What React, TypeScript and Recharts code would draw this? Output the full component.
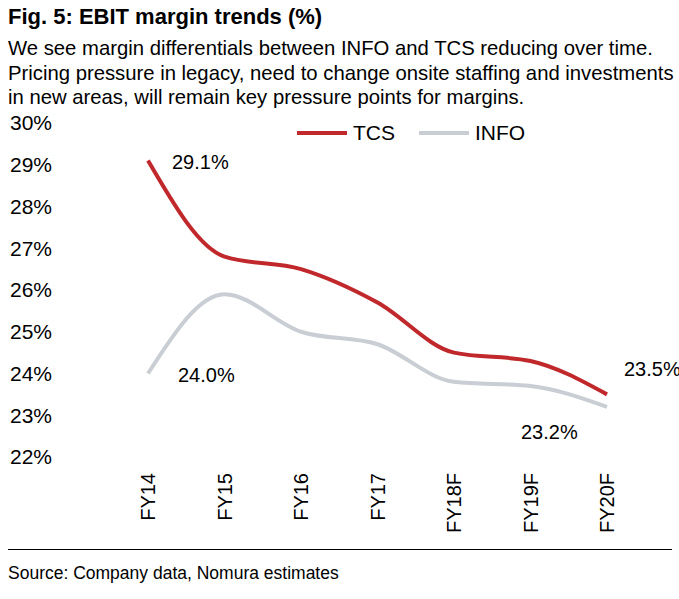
import {LineChart, Line, XAxis, YAxis, LabelList} from "recharts";

document.body.style.margin = "0";

const years = ["FY14", "FY15", "FY16", "FY17", "FY18F", "FY19F", "FY20F"];
const tcs = [29.1, 26.8, 26.5, 25.7, 24.5, 24.3, 23.5];
const info = [24.0, 25.9, 25.0, 24.7, 23.8, 23.7, 23.2];
const yTicks = [22, 23, 24, 25, 26, 27, 28, 29, 30];

const data = years.map((y, i) => ({year: y, tcs: tcs[i], info: info[i]}));

const RED = "#c0282b";
const GREY = "#c9ced4";
const font = "Liberation Sans, Arial, sans-serif";

const XTick = (props: any) => {
    const {x, y, payload} = props;
    return <text x={x + 7} y={y + 8} transform={`rotate(-90 ${x + 7} ${y + 8})`}
                 textAnchor="end" fontSize={20} fill="#000" fontFamily={font}>{payload.value}</text>;
};

const makeLabel = (show: Record<number, [number, number]>) => (props: any) => {
    const {x, y, index, value} = props;
    const off = show[index];
    if (!off) return null;
    return <text x={x + off[0]} y={y + off[1]} fontSize={20} fill="#000" fontFamily={font}>
        {value.toFixed(1)}%</text>;
};

export default function App() {
    return <div style={{position: "relative", width: 679, height: 599, fontFamily: font, background: "#fff"}}>
        <div style={{position: "absolute", left: 8, top: 4, fontSize: 22, fontWeight: "bold"}}>Fig. 5: EBIT margin trends (%)</div>
        <div style={{position: "absolute", left: 8, top: 36, fontSize: 20.3, lineHeight: "24.5px", width: 675, whiteSpace: "nowrap"}}>
            We see margin differentials between INFO and TCS reducing over time.<br/>
            Pricing pressure in legacy, need to change onsite staffing and investments<br/>
            in new areas, will remain key pressure points for margins.
        </div>
        <div style={{position: "absolute", left: 0, top: 0}}>
            <LineChart width={679} height={540} data={data} margin={{top: 123, right: 34, left: 0, bottom: 0}}>
                <XAxis dataKey="year" axisLine={false} tickLine={false} tick={<XTick/>} height={83}
                       padding={{left: 73, right: 38}} interval={0}/>
                <YAxis domain={[22, 30]} ticks={yTicks} axisLine={false} tickLine={false} width={75}
                       tickFormatter={(v: number) => `${v}%`}
                       tick={{fontSize: 21, fill: "#000", fontFamily: font, textAnchor: "start", dx: -57}}/>
                <Line type="monotone" dataKey="info" stroke={GREY} strokeWidth={4} dot={false} isAnimationActive={false}>
                    <LabelList dataKey="info" content={makeLabel({0: [30, 8], 6: [-86, 32]})}/>
                </Line>
                <Line type="monotone" dataKey="tcs" stroke={RED} strokeWidth={4} dot={false} isAnimationActive={false}>
                    <LabelList dataKey="tcs" content={makeLabel({0: [24, 8], 6: [17, -18]})}/>
                </Line>
            </LineChart>
        </div>
        <div style={{position: "absolute", left: 297, top: 121, display: "flex", alignItems: "center", fontSize: 21}}>
            <span style={{width: 50, height: 4, background: RED, display: "inline-block", marginRight: 6}}/>
            <span style={{marginRight: 24}}>TCS</span>
            <span style={{width: 50, height: 4, background: GREY, display: "inline-block", marginRight: 6}}/>
            <span>INFO</span>
        </div>
        <div style={{position: "absolute", left: 8, top: 549, width: 664, borderTop: "1px solid #000"}}/>
        <div style={{position: "absolute", left: 8, top: 563, fontSize: 17.5}}>Source: Company data, Nomura estimates</div>
    </div>;
}
